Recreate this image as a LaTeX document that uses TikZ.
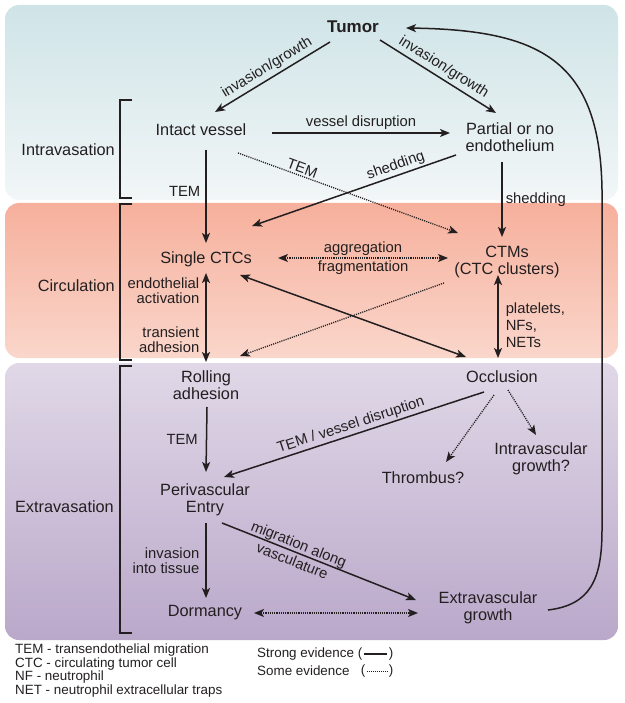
\documentclass[tikz,border=0pt]{standalone}
\usepackage{fontspec}
\setmainfont{Liberation Sans}
\usetikzlibrary{arrows.meta,calc}
\definecolor{ink}{RGB}{35,31,32}
\definecolor{bluetop}{RGB}{207,228,231}
\definecolor{bluebot}{RGB}{242,246,247}
\definecolor{saltop}{RGB}{246,176,156}
\definecolor{salbot}{RGB}{250,214,203}
\definecolor{purtop}{RGB}{224,216,231}
\definecolor{purmid}{RGB}{200,187,214}
\definecolor{purbot}{RGB}{186,168,202}
\begin{document}
\begin{tikzpicture}[x=1pt,y=-1pt,
  nd/.style={font=\fontsize{16.3}{17}\selectfont, align=center, inner sep=0pt, text=ink},
  lbl/.style={font=\fontsize{14.8}{15}\selectfont, inner sep=2pt, text=ink},
  leg/.style={font=\fontsize{13.4}{12}\selectfont, inner sep=0pt, text=ink},
  arr/.style={line width=1.5pt, draw=ink, -{Stealth[length=10pt,width=8pt,inset=2.5pt]}},
  darr/.style={line width=1.5pt, draw=ink, {Stealth[length=10pt,width=8pt,inset=2.5pt]}-{Stealth[length=10pt,width=8pt,inset=2.5pt]}},
  dotline/.style={line width=1.3pt, dash pattern=on 1.1pt off 1.1pt},
  brk/.style={draw=ink, line width=1.2pt}
]
\useasboundingbox (0,0) rectangle (624,703);
% panels
\shade[top color=bluetop, bottom color=bluebot, rounded corners=14pt] (5,5) rectangle (618,200);
\shade[top color=saltop, bottom color=salbot, rounded corners=14pt] (5,203) rectangle (618,358);
\shade[top color=purtop, middle color=purmid, bottom color=purbot, rounded corners=14pt] (5,363) rectangle (618,640);

% brackets
\draw[brk] (132,100) -- (120,100) -- (120,198) -- (132,198);
\draw[brk] (132,204) -- (120,204) -- (120,360) -- (132,360);
\draw[brk] (132,366) -- (120,366) -- (120,633) -- (132,633);

% side labels
\node[nd, anchor=east] (lIntra) at (115,150) {Intravasation};
\node[nd, anchor=east] (lCirc) at (115,286) {Circulation};
\node[nd, anchor=east] (lExtra) at (114,507) {Extravasation};

% nodes
\node[nd, font=\bfseries\fontsize{17}{19}\selectfont] (T) at (353,27) {Tumor};
\node[nd] (IV) at (201,130) {Intact vessel};
\node[nd] (PE) at (510,137) {Partial or no\\endothelium};
\node[nd] (SC) at (206,259) {Single CTCs};
\node[nd] (CTM) at (507,262) {CTMs\\(CTC clusters)};
\node[nd] (RA) at (206,385) {Rolling\\adhesion};
\node[nd] (OC) at (502,377) {Occlusion};
\node[nd] (TH) at (423,478) {Thrombus?};
\node[nd] (IG) at (541,459) {Intravascular\\growth?};
\node[nd] (PV) at (205,500) {Perivascular\\Entry};
\node[nd] (DO) at (205,613) {Dormancy};
\node[nd] (EG) at (488,608) {Extravascular\\growth};

% edges
\draw[arr] ([shift={(-23,15)}]T.center) -- node[lbl, sloped, above, inner sep=3pt] {invasion/growth} ([shift={(14,-18)}]IV.center);
\draw[arr] ([shift={(27,13)}]T.center) -- node[lbl, sloped, above, inner sep=3pt] {invasion/growth} ([shift={(-14,-24)}]PE.center);
\draw[arr] ([shift={(71,3)}]IV.center) -- node[lbl, above, yshift=1pt] {vessel disruption} ([shift={(-60,-4)}]PE.center);
\draw[arr] ([shift={(5,20)}]IV.center) -- node[lbl, left, xshift=-3pt, pos=0.45] {TEM} ([shift={(0,-16)}]SC.center);
\draw[arr, dotline] ([shift={(37,23)}]IV.center) -- node[lbl, sloped, above, pos=0.28] {TEM} ([shift={(-49,-29)}]CTM.center);
\draw[arr] ([shift={(-54,18)}]PE.center) -- node[lbl, sloped, above, pos=0.28] {shedding} ([shift={(46,-33)}]SC.center);
\draw[arr] ([shift={(-8,25)}]PE.center) -- node[lbl, right, xshift=1pt] {shedding} ([shift={(-5,-25)}]CTM.center);
\draw[darr, dotline] ([shift={(72,-1)}]SC.center) -- node[lbl, above] {aggregation} node[lbl, below] {fragmentation} ([shift={(-59,-4)}]CTM.center);
\draw[darr] ([shift={(0,14)}]SC.center) -- node[lbl, left, align=right, xshift=-4pt, pos=0.2] {endothelial\\activation} node[lbl, left, align=right, xshift=-4pt, pos=0.75] {transient\\adhesion} ([shift={(0,-23)}]RA.center);
\draw[darr] ([shift={(34,16)}]SC.center) -- ([shift={(-36,-20)}]OC.center);
\draw[arr, dotline] ([shift={(-63,21)}]CTM.center) -- ([shift={(34,-29)}]RA.center);
\draw[darr] ([shift={(-9,13)}]CTM.center) -- node[lbl, right, align=left, xshift=5pt, pos=0.6, font=\fontsize{14.8}{17}\selectfont] {platelets,\\NFs,\\NETs} ([shift={(-4,-19)}]OC.center);
\draw[arr] ([shift={(1,22)}]RA.center) -- node[lbl, left, xshift=-6pt] {TEM} ([shift={(1,-28)}]PV.center);
\draw[arr] ([shift={(-18,15)}]OC.center) -- node[lbl, sloped, above] {TEM / vessel disruption} ([shift={(19,-23)}]PV.center);
\draw[arr, dotline] ([shift={(-8,18)}]OC.center) -- ([shift={(23,-16)}]TH.center);
\draw[arr, dotline] ([shift={(6,13)}]OC.center) -- ([shift={(-5,-24)}]IG.center);
\draw[arr] ([shift={(1,23)}]PV.center) -- node[lbl, left, align=right, xshift=-4pt] {invasion\\into tissue} ([shift={(1,-15)}]DO.center);
\draw[arr] ([shift={(17,23)}]PV.center) -- node[lbl, sloped, pos=0.38, align=center, font=\fontsize{14.8}{18}\selectfont] {migration along\\vasculature} ([shift={(-72,-8)}]EG.center);
\draw[darr, dotline] ([shift={(49,0)}]DO.center) -- ([shift={(-70,5)}]EG.center);
\draw[arr] ([shift={(60,2)}]EG.center) .. controls (590,605) and (602,580) .. (602,530) -- (602,190) .. controls (600,60) and (540,30) .. ([shift={(53,1)}]T.center);

% legend
\node[leg, anchor=west, align=left] (legA) at (15,670.5) {TEM - transendothelial migration\\CTC - circulating tumor cell\\NF - neutrophil\\NET - neutrophil extracellular traps};
\node[leg, anchor=west] (legS) at (257,654) {Strong evidence};
\node[leg] (po1) at (360,654) {(};
\node[leg] (pc1) at (391,654) {)};
\draw[ink, line width=1.3pt] ([xshift=1.5pt]po1.east) -- ([xshift=-1.5pt]pc1.west);
\node[leg, anchor=west] (legW) at (257,671) {Some evidence};
\node[leg] (po2) at (363,671) {(};
\node[leg] (pc2) at (391,671) {)};
\draw[ink, line width=1pt, dash pattern=on 0.9pt off 1.1pt] ([xshift=1.5pt]po2.east) -- ([xshift=-1.5pt]pc2.west);
\end{tikzpicture}
\end{document}
